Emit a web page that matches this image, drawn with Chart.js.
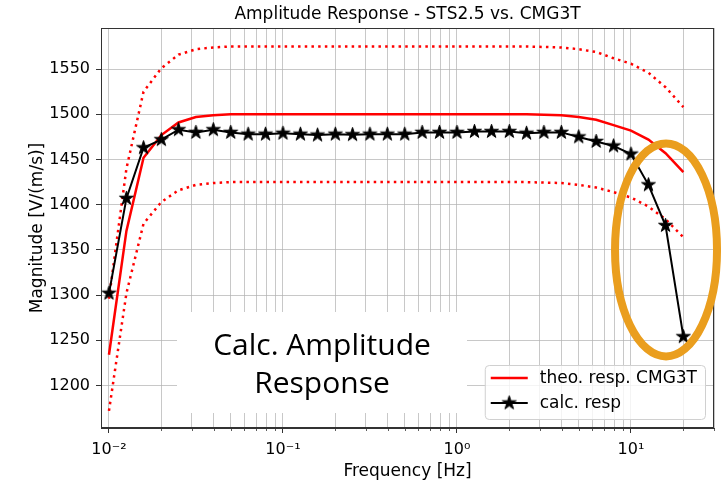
<!DOCTYPE html>
<html><head><meta charset="utf-8">
<script src="https://cdn.jsdelivr.net/npm/chart.js@4.4.0/dist/chart.umd.min.js"></script>
<style>html,body{margin:0;padding:0;background:#fff;}canvas{display:block;}</style>
</head><body>
<canvas id="c" width="724" height="483"></canvas>
<script>
// ---- data ----
const frequencies = [0.01, 0.0126, 0.0158, 0.02, 0.0251, 0.0316, 0.0398, 0.0501, 0.0631, 0.0794,
  0.1, 0.126, 0.158, 0.2, 0.251, 0.316, 0.398, 0.501, 0.631, 0.794,
  1, 1.26, 1.58, 2, 2.51, 3.16, 3.98, 5.01, 6.31, 7.94,
  10, 12.6, 15.8, 20];
const calcResp = [1302, 1407, 1463, 1472, 1483, 1480, 1483, 1480, 1478, 1478,
  1479, 1478, 1477, 1478, 1477.5, 1478, 1478, 1478, 1480, 1480,
  1480, 1481, 1481, 1481, 1479, 1480, 1480, 1475, 1470, 1465,
  1456, 1422, 1377, 1254];
const theoResp = [1234, 1371, 1452, 1477, 1491, 1497, 1499, 1500, 1500, 1500,
  1500, 1500, 1500, 1500, 1500, 1500, 1500, 1500, 1500, 1500,
  1500, 1500, 1500, 1500, 1500, 1499.5, 1499, 1497, 1494, 1488,
  1482, 1472, 1457, 1436];
const theoUpper = [1296, 1440, 1525, 1551, 1566, 1572, 1574, 1575, 1575, 1575,
  1575, 1575, 1575, 1575, 1575, 1575, 1575, 1575, 1575, 1575,
  1575, 1575, 1575, 1575, 1575, 1574.5, 1574, 1572, 1569, 1562,
  1556, 1546, 1530, 1508];
const theoLower = [1172, 1302, 1379, 1403, 1416, 1422, 1424, 1425, 1425, 1425,
  1425, 1425, 1425, 1425, 1425, 1425, 1425, 1425, 1425, 1425,
  1425, 1425, 1425, 1425, 1425, 1424.5, 1424, 1422, 1419, 1414,
  1408, 1398, 1384, 1364];
const yTicks = [1200, 1250, 1300, 1350, 1400, 1450, 1500, 1550];
const xMajorTicks = [0.01, 0.1, 1, 10];
const xMajorLabels = ['10\u207B\u00B2', '10\u207B\u00B9', '10\u2070', '10\u00B9'];
const xMinorTicks = [0.02, 0.03, 0.04, 0.05, 0.06, 0.07, 0.08, 0.09,
  0.2, 0.3, 0.4, 0.5, 0.6, 0.7, 0.8, 0.9,
  2, 3, 4, 5, 6, 7, 8, 9, 20, 30];
const titleText = 'Amplitude Response - STS2.5 vs. CMG3T';
const noteLines = ['Calc. Amplitude', 'Response'];

// ---- star marker ----
function makeStar(size, R) {
  const c = document.createElement('canvas');
  c.width = c.height = size;
  const g = c.getContext('2d');
  const cx = size / 2, cy = size / 2, r = R * 0.382;
  g.beginPath();
  for (let i = 0; i < 10; i++) {
    const a = -Math.PI / 2 + i * Math.PI / 5;
    const rr = i % 2 ? r : R;
    g.lineTo(cx + rr * Math.cos(a), cy + rr * Math.sin(a));
  }
  g.closePath();
  g.fillStyle = '#000'; g.fill();
  g.lineWidth = 1; g.strokeStyle = '#000'; g.stroke();
  return c;
}
const star = makeStar(17, 7.3);

const pts = arr => arr.map((v, i) => ({x: frequencies[i], y: v}));
const FONT = 'DejaVu Sans';
const isMajor = v => xMajorTicks.some(m => Math.abs(m - v) < m * 1e-6);

const deco = {
  id: 'deco',
  beforeDatasetsDraw(chart) {
    const g = chart.ctx;
    g.save();
    g.fillStyle = '#fff';
    g.fillRect(177, 312, 290, 101);
    g.restore();
  },
  afterDraw(chart) {
    const g = chart.ctx, a = chart.chartArea, xs = chart.scales.x, ys = chart.scales.y;
    g.save();
    // minor ticks
    g.strokeStyle = '#333'; g.lineWidth = 0.8;
    xMinorTicks.forEach(v => {
      const px = Math.round(xs.getPixelForValue(v)) + 0.5;
      g.beginPath(); g.moveTo(px, a.bottom); g.lineTo(px, a.bottom + 3); g.stroke();
    });
    // frame
    g.strokeStyle = '#333'; g.lineWidth = 1;
    g.strokeRect(Math.round(a.left) + 0.5, Math.round(a.top) + 0.5, Math.round(a.right - a.left) - 1, Math.round(a.bottom - a.top) - 1);
    // note text
    g.fillStyle = '#000';
    g.font = '30px "Open Sans"';
    g.textAlign = 'center'; g.textBaseline = 'alphabetic';
    g.fillText(noteLines[0], 322, 355);
    g.fillText(noteLines[1], 322, 393);
    // legend
    const ds = chart.data.datasets;
    const entries = [ds[1], ds[0]];
    g.font = '17px "' + FONT + '"';
    const tw = Math.max(...entries.map(e => g.measureText(e.label).width));
    const lw = 6 + 37 + 12 + tw + 8, lh = 54;
    const lx = a.right - 9 - lw, ly = a.bottom - 9 - lh;
    g.beginPath();
    g.roundRect(lx + 0.5, ly + 0.5, lw, lh, 4);
    g.fillStyle = 'rgba(255,255,255,0.8)'; g.fill();
    g.strokeStyle = '#d0d0d0'; g.lineWidth = 1; g.stroke();
    entries.forEach((e, i) => {
      const cy = ly + 13 + i * 25;
      g.strokeStyle = e.borderColor; g.lineWidth = e.borderWidth;
      g.beginPath(); g.moveTo(lx + 6, cy); g.lineTo(lx + 43, cy); g.stroke();
      if (e.pointStyle instanceof HTMLCanvasElement) {
        g.drawImage(e.pointStyle, lx + 24.5 - e.pointStyle.width / 2, cy - e.pointStyle.height / 2);
      }
      g.fillStyle = '#000'; g.textAlign = 'left'; g.textBaseline = 'middle';
      g.fillText(e.label, lx + 55, cy + 1);
    });
    // highlight ellipse
    const ex = xs.getPixelForValue(15.9), ey = ys.getPixelForValue(1350);
    g.beginPath();
    g.ellipse(ex, ey, 51, 106.5, 0, 0, Math.PI * 2);
    g.strokeStyle = '#EA9E1E'; g.lineWidth = 8; g.stroke();
    g.restore();
  }
};

new Chart(document.getElementById('c'), {
  type: 'line',
  data: {
    datasets: [
      {label: 'calc. resp', data: pts(calcResp), borderColor: '#000', borderWidth: 2,
        pointStyle: star, pointRadius: 8, pointHoverRadius: 8, order: 0},
      {label: 'theo. resp. CMG3T', data: pts(theoResp), borderColor: '#ff0000', borderWidth: 2.5,
        pointRadius: 0, order: 1},
      {label: '_upper', data: pts(theoUpper), borderColor: '#ff0000', borderWidth: 2.5,
        borderDash: [2.5, 4.2], pointRadius: 0, order: 2},
      {label: '_lower', data: pts(theoLower), borderColor: '#ff0000', borderWidth: 2.5,
        borderDash: [2.5, 4.2], pointRadius: 0, order: 3}
    ]
  },
  options: {
    responsive: false, animation: false, events: [],
    layout: {padding: {left: 0, right: 7, top: 0, bottom: 0}},
    plugins: {
      legend: {display: false}, tooltip: {enabled: false},
      title: {display: true, text: titleText, fullSize: false, color: '#000',
        font: {family: FONT, size: 17, weight: 'normal'}, padding: {top: 4, bottom: 3.6}}
    },
    scales: {
      x: {
        type: 'logarithmic', min: 0.009, max: 30,
        afterBuildTicks: s => { s.ticks = xMajorTicks.concat(xMinorTicks).sort((p, q) => p - q).map(v => ({value: v, major: isMajor(v)})); },
        afterFit: s => { s.height = 55; s.paddingLeft = 0; s.paddingRight = 0; },
        ticks: {autoSkip: false, maxRotation: 0, minRotation: 0, padding: 7, color: '#000',
          font: {family: FONT, size: 16},
          callback: (v) => { const i = xMajorTicks.findIndex(m => Math.abs(m - v) < m * 1e-6); return i >= 0 ? xMajorLabels[i] : ''; }},
        grid: {color: 'rgba(176,176,176,0.7)', lineWidth: 1, tickLength: 5,
          tickColor: c => (c.tick && isMajor(c.tick.value)) ? '#333' : 'rgba(0,0,0,0)'},
        border: {color: '#333', width: 1},
        title: {display: true, text: 'Frequency [Hz]', color: '#000', font: {family: FONT, size: 17}, padding: {top: 0, bottom: 1}}
      },
      y: {
        type: 'linear', min: 1153, max: 1595.5,
        afterBuildTicks: s => { s.ticks = yTicks.map(v => ({value: v})); },
        afterFit: s => { s.width = 101; s.paddingTop = 0; s.paddingBottom = 0; },
        ticks: {padding: 6, color: '#000', font: {family: FONT, size: 16}, callback: v => String(v)},
        grid: {color: 'rgba(176,176,176,0.7)', lineWidth: 1, tickLength: 5, tickColor: '#333'},
        border: {color: '#333', width: 1},
        title: {display: true, text: 'Magnitude [V/(m/s)]', color: '#000', font: {family: FONT, size: 17}, padding: {top: 27, bottom: 0}}
      }
    }
  },
  plugins: [deco]
});
</script>
</body></html>
